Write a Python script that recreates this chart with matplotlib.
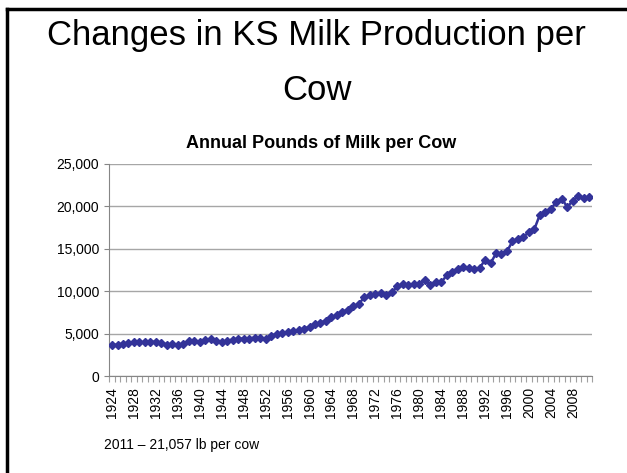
import matplotlib
matplotlib.use('Agg')
import matplotlib.pyplot as plt
from matplotlib.lines import Line2D
from matplotlib.ticker import FuncFormatter, MultipleLocator

plt.rcParams['font.family'] = ['Liberation Sans', 'DejaVu Sans']

# annual pounds of milk per cow, Kansas, 1924-2011
years = list(range(1924, 2012))
milk = [
    3660, 3700, 3820, 3940, 3980, 3990, 3990, 4060, 4020, 3940,   # 1924-1933
    3700, 3740, 3660, 3780, 4170, 4130, 4020, 4260, 4330, 4130,   # 1934-1943
    4020, 4140, 4300, 4410, 4410, 4420, 4530, 4450, 4370, 4730,   # 1944-1953
    5000, 5040, 5200, 5320, 5400, 5600, 5790, 6110, 6300, 6540,   # 1954-1963
    6940, 7170, 7550, 7840, 8200, 8510, 9300, 9530, 9690, 9810,   # 1964-1973
    9530, 9850, 10560, 10800, 10680, 10840, 10840, 11350, 10760, 11070,  # 1974-1983
    11030, 11860, 12290, 12610, 12820, 12720, 12570, 12690, 13710, 13280,  # 1984-1993
    14460, 14380, 14700, 15880, 16150, 16390, 16980, 17330, 19030, 19310,  # 1994-2003
    19700, 20530, 20920, 19900, 20690, 21200, 21000, 21057,        # 2004-2011
]
label_years = list(range(1924, 2009, 4))

fig = plt.figure(figsize=(6.27, 4.73), dpi=100)
ax = fig.add_axes([109.3 / 627, 1 - 376 / 473, (592 - 109.3) / 627, (376 - 164) / 473])

ax.plot(years, milk, color='#333399', lw=1.8, marker='D', markersize=4,
        markerfacecolor='#333399', markeredgecolor='#333399', zorder=3)

ax.set_xlim(years[0] - 0.5, years[-1] + 0.5)
ax.set_ylim(0, 25000)
ax.yaxis.set_major_locator(MultipleLocator(5000))
ax.yaxis.set_major_formatter(FuncFormatter(lambda v, p: f'{int(v):,}'))
ax.set_xticks(label_years)
ax.set_xticklabels([str(y) for y in label_years], rotation=90, fontsize=10)
ax.set_xticks([y - 0.5 for y in years] + [years[-1] + 0.5], minor=True)
ax.tick_params(axis='x', which='major', length=0, pad=8)
ax.tick_params(axis='x', which='minor', length=4, color='#a0a0a0', width=0.8)
ax.tick_params(axis='y', length=3.6, color='#868686', labelsize=10, pad=3.6)

ax.grid(axis='y', color='#a6a6a6', lw=1)
ax.set_axisbelow(True)
for s in ['top', 'right']:
    ax.spines[s].set_visible(False)
for s in ['left', 'bottom']:
    ax.spines[s].set_color('#868686')

fig.text(321 / 627, 1 - 144 / 473, 'Annual Pounds of Milk per Cow', ha='center', va='center',
         fontsize=13, fontweight='bold')

fig.text(0.505, 1 - 36 / 473, 'Changes in KS Milk Production per', ha='center', va='center', fontsize=25)
fig.text(0.505, 1 - 90 / 473, 'Cow', ha='center', va='center', fontsize=25)
fig.text(104 / 627, 1 - 445 / 473, '2011 \u2013 21,057 lb per cow', ha='left', va='center', fontsize=10)

# slide frame
fig.add_artist(Line2D([7 / 627, 1], [1 - 9 / 473, 1 - 9 / 473], color='black', lw=2.5, transform=fig.transFigure))
fig.add_artist(Line2D([7 / 627, 7 / 627], [0, 1 - 9 / 473], color='black', lw=2.5, transform=fig.transFigure))

fig.savefig('out.png', dpi=100)
